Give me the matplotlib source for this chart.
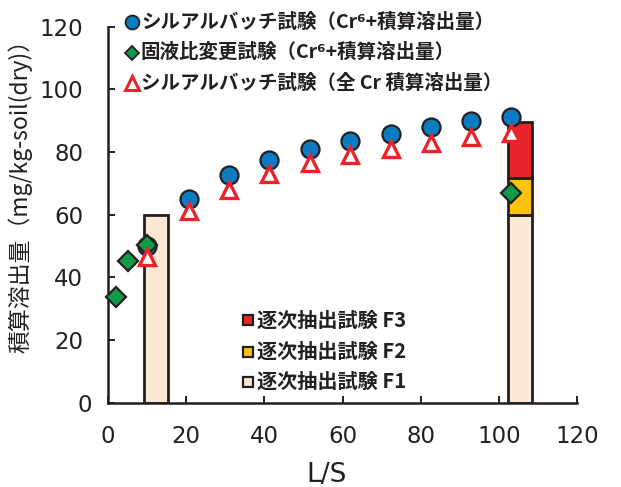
import numpy as np
import matplotlib
matplotlib.use("Agg")
import matplotlib.pyplot as plt
from matplotlib.transforms import ScaledTranslation

plt.rcParams['font.family'] = ['Noto Sans CJK JP', 'DejaVu Sans']

# Silica-alumina batch test: cumulative leached Cr6+ and total Cr
batch_ls = [10.1, 20.8, 31.0, 41.3, 51.8, 62.0, 72.3, 82.7, 93.0, 103.2]
batch_cr6 = [50.1, 65.1, 72.6, 77.6, 80.9, 83.6, 85.9, 88.1, 89.8, 91.3]
batch_total = [46.6, 61.2, 67.9, 72.9, 76.4, 79.1, 81.1, 82.9, 84.8, 86.0]

# Liquid/solid ratio test: cumulative leached Cr6+
ratio_ls = [2.1, 5.2, 10.1, 103.2]
ratio_cr6 = [33.8, 45.2, 50.3, 67.0]

# Sequential extraction fractions (stacked)
seq_ls = np.array([12.3, 105.4])
seq_f1 = np.array([60.0, 60.0])
seq_f2 = np.array([0.0, 11.8])
seq_f3 = np.array([0.0, 17.9])

axis_ticks = [0, 20, 40, 60, 80, 100, 120]

legend_top = ["シルアルバッチ試験（Cr⁶+積算溶出量）",
              "固液比変更試験（Cr⁶+積算溶出量）",
              "シルアルバッチ試験（全 Cr 積算溶出量）"]
legend_seq = ["逐次抽出試験 F3", "逐次抽出試験 F2", "逐次抽出試験 F1"]

C_BLUE = "#0a7dc2"
C_GREEN = "#0f9a48"
C_RED = "#e8232b"
C_YELLOW = "#fbc214"
C_PEACH = "#fbe8d5"
C_EDGE = "#231f20"

W, H = 621, 487
fig = plt.figure(figsize=(W / 100, H / 100), dpi=100)
ax = fig.add_axes([108 / W, 1 - 402.7 / H, (577 - 108) / W, (402.7 - 26.7) / H])

bar_w = 6.2
bar_kw = dict(width=bar_w, edgecolor=C_EDGE, linewidth=2.0, zorder=2)
ax.bar(seq_ls, seq_f1, color=C_PEACH, **bar_kw)
m2 = seq_f2 > 0
ax.bar(seq_ls[m2], seq_f2[m2], bottom=seq_f1[m2], color=C_YELLOW, **bar_kw)
m3 = seq_f3 > 0
ax.bar(seq_ls[m3], seq_f3[m3], bottom=(seq_f1 + seq_f2)[m3], color=C_RED, **bar_kw)

ax.plot(batch_ls, batch_cr6, 'o', ms=13, mfc=C_BLUE, mec=C_EDGE, mew=1.6,
        ls='none', zorder=3, clip_on=False)
ax.plot(ratio_ls, ratio_cr6, 'D', ms=10, mfc=C_GREEN, mec=C_EDGE, mew=1.6,
        ls='none', zorder=4, clip_on=False)
ax.plot(batch_ls, batch_total, '^', ms=12, mfc='white', mec=C_RED, mew=2.4,
        ls='none', zorder=5, clip_on=False)

ax.set_xlim(0, 120)
ax.set_ylim(0, 120)
ax.set_xticks(axis_ticks)
ax.set_yticks(axis_ticks)
for s in ('top', 'right'):
    ax.spines[s].set_visible(False)
for s in ('left', 'bottom'):
    ax.spines[s].set_linewidth(1.8)
    ax.spines[s].set_color(C_EDGE)
ax.tick_params(axis='both', direction='in', length=5, width=1.4, color=C_EDGE,
               labelsize=16.5, labelcolor='#231f20', labelfontfamily='DejaVu Sans')
ax.tick_params(axis='y', pad=18)
ax.tick_params(axis='x', pad=16)

# nudge the y-axis zero label to the right
t0 = ax.yaxis.get_major_ticks()[0]
t0.label1.set_transform(t0.label1.get_transform() +
                        ScaledTranslation(9 / 100, 0, fig.dpi_scale_trans))

fig.text(327 / W, 1 - 482 / H, "L/S", ha='center', va='baseline', fontsize=19,
         fontfamily='DejaVu Sans', color='#231f20')
fig.text(20 / W, 1 - 190 / H, "積算溶出量（mg/kg-soil(dry)）", rotation=90,
         ha='center', va='center', fontsize=16.5, color='#231f20')

# upper legend
top_rows = [22, 52.5, 83]
top_styles = [dict(marker='o', ms=10, mfc=C_BLUE, mec=C_EDGE, mew=1.3),
              dict(marker='D', ms=7.5, mfc=C_GREEN, mec=C_EDGE, mew=1.3),
              dict(marker='^', ms=9.5, mfc='white', mec=C_RED, mew=2.2)]
for y, st, txt in zip(top_rows, top_styles, legend_top):
    fig.add_artist(plt.Line2D([132 / W], [1 - y / H], transform=fig.transFigure,
                              ls='none', **st))
    fig.text(141 / W, 1 - y / H, txt, ha='left', va='center', fontsize=14,
             fontweight='bold', color='#231f20')

# sequential extraction legend
seq_rows = [320, 351.7, 381.7]
seq_cols = [C_RED, C_YELLOW, C_PEACH]
for y, c, txt in zip(seq_rows, seq_cols, legend_seq):
    fig.add_artist(plt.Line2D([248 / W], [1 - y / H], transform=fig.transFigure,
                              ls='none', marker='s', ms=6.5, mfc=c, mec=C_EDGE, mew=1.6))
    fig.text(257 / W, 1 - y / H, txt, ha='left', va='center', fontsize=14.5,
             fontweight='bold', color='#231f20',
             fontfamily=['Noto Sans CJK JP', 'DejaVu Sans'])

fig.savefig("out.png", dpi=100)
